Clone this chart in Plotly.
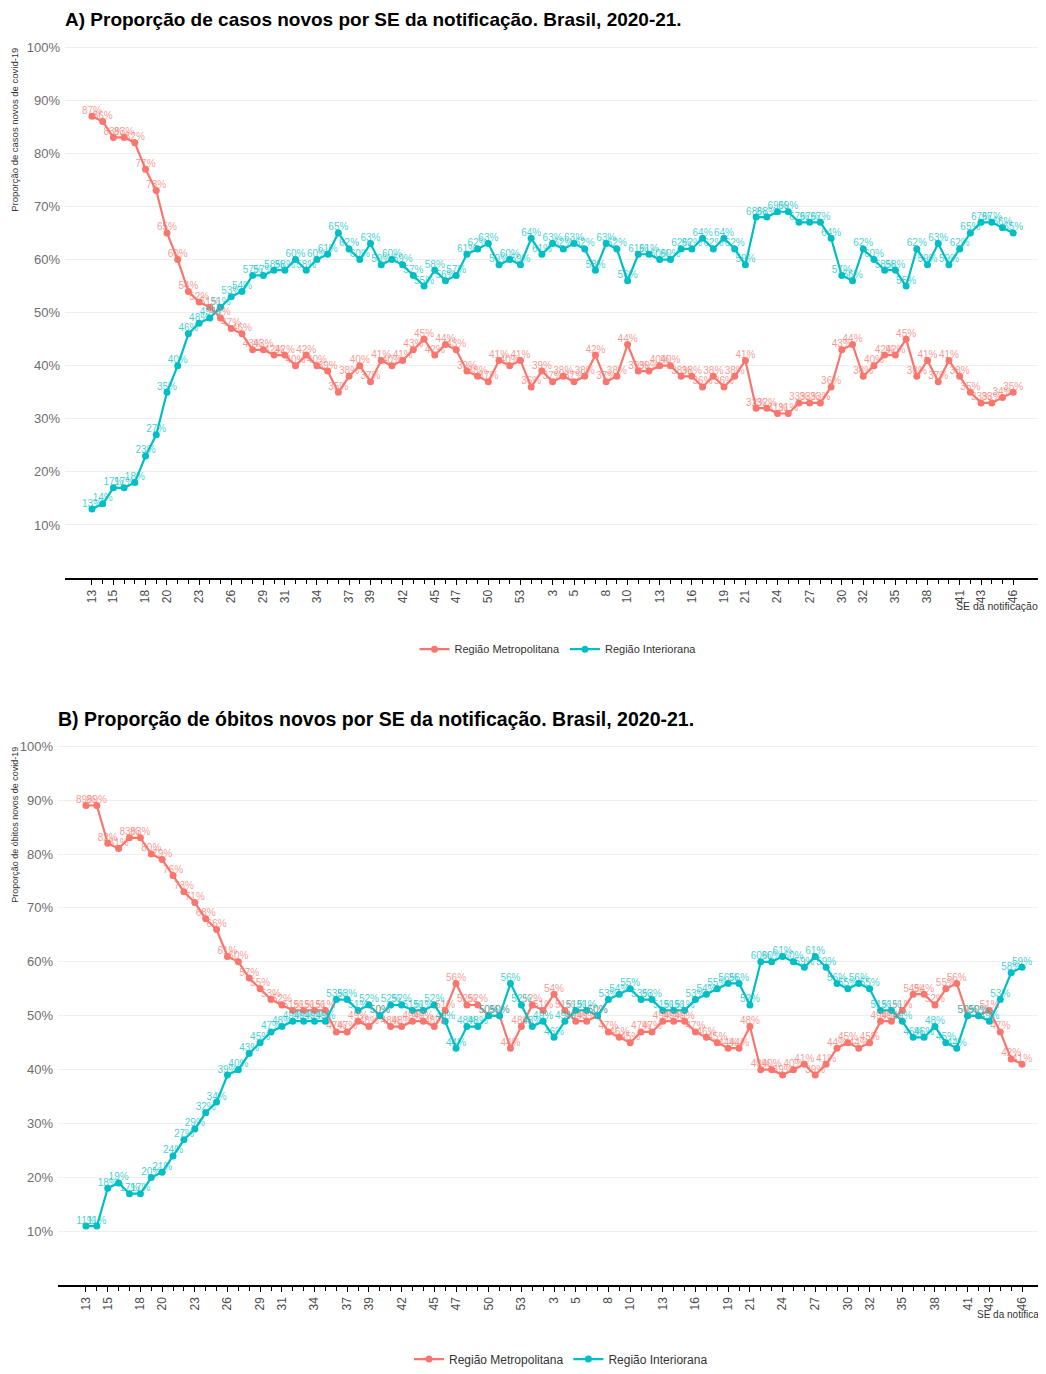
import plotly.graph_objects as go

# %%
# Semanas epidemiológicas (SE) 2020 e 2021
semanas_2020 = [13, 14, 15, 16, 17, 18, 19, 20, 21, 22, 23, 24, 25, 26, 27, 28, 29, 30, 31, 32,
                33, 34, 35, 36, 37, 38, 39, 40, 41, 42, 43, 44, 45, 46, 47, 48, 49, 50, 51, 52, 53]
semanas_2021 = [1, 2, 3, 4, 5, 6, 7, 8, 9, 10, 11, 12, 13, 14, 15, 16, 17, 18, 19, 20, 21, 22, 23,
                24, 25, 26, 27, 28, 29, 30, 31, 32, 33, 34, 35, 36, 37, 38, 39, 40, 41, 42, 43, 44, 45, 46]
semanas = semanas_2020 + semanas_2021

# semanas com rótulo no eixo x
rotulos_2020 = [13, 15, 18, 20, 23, 26, 29, 31, 34, 37, 39, 42, 45, 47, 50, 53]
rotulos_2021 = [3, 5, 8, 10, 13, 16, 19, 21, 24, 27, 30, 32, 35, 38, 41, 43, 46]

# %%
# A) casos novos (%)
casos_metro = [87, 86, 83, 83, 82, 77, 73, 65, 60, 54, 52, 51, 49, 47, 46, 43, 43, 42, 42, 40,
               42, 40, 39, 35, 38, 40, 37, 41, 40, 41, 43, 45, 42, 44, 43, 39, 38, 37, 41, 40, 41,
               36, 39, 37, 38, 37, 38, 42, 37, 38, 44, 39, 39, 40, 40, 38, 38, 36, 38, 36, 38,
               41, 32, 32, 31, 31, 33, 33, 33, 36, 43, 44, 38, 40, 42, 42, 45, 38, 41, 37, 41,
               38, 35, 33, 33, 34, 35]
casos_inter = [13, 14, 17, 17, 18, 23, 27, 35, 40, 46, 48, 49, 51, 53, 54, 57, 57, 58, 58, 60,
               58, 60, 61, 65, 62, 60, 63, 59, 60, 59, 57, 55, 58, 56, 57, 61, 62, 63, 59, 60, 59,
               64, 61, 63, 62, 63, 62, 58, 63, 62, 56, 61, 61, 60, 60, 62, 62, 64, 62, 64, 62,
               59, 68, 68, 69, 69, 67, 67, 67, 64, 57, 56, 62, 60, 58, 58, 55, 62, 59, 63, 59,
               62, 65, 67, 67, 66, 65]

# B) óbitos novos (%)
obitos_metro = [89, 89, 82, 81, 83, 83, 80, 79, 76, 73, 71, 68, 66, 61, 60, 57, 55, 53, 52, 51,
                51, 51, 51, 47, 47, 49, 48, 50, 48, 48, 49, 49, 48, 51, 56, 52, 52, 50, 50, 44, 48,
                52, 51, 54, 51, 49, 49, 50, 47, 46, 45, 47, 47, 49, 49, 49, 47, 46, 45, 44, 44,
                48, 40, 40, 39, 40, 41, 39, 41, 44, 45, 44, 45, 49, 49, 51, 54, 54, 52, 55, 56,
                50, 50, 51, 47, 42, 41]
obitos_inter = [11, 11, 18, 19, 17, 17, 20, 21, 24, 27, 29, 32, 34, 39, 40, 43, 45, 47, 48, 49,
                49, 49, 49, 53, 53, 51, 52, 50, 52, 52, 51, 51, 52, 49, 44, 48, 48, 50, 50, 56, 52,
                48, 49, 46, 49, 51, 51, 50, 53, 54, 55, 53, 53, 51, 51, 51, 53, 54, 55, 56, 56,
                52, 60, 60, 61, 60, 59, 61, 59, 56, 55, 56, 55, 51, 51, 49, 46, 46, 48, 45, 44,
                50, 50, 49, 53, 58, 59]

# %%
# a página tem margem de 8px no body, então o gráfico é deslocado
OFF = 8
W, H = 1038, 1366
FONT = "Liberation Sans, Arial, sans-serif"
VERMELHO = "#F8766D"
AZUL = "#00BFC4"

idx = list(range(len(semanas)))
tickvals = [semanas_2020.index(s) for s in rotulos_2020] + \
           [len(semanas_2020) + semanas_2021.index(s) for s in rotulos_2021]
ticktext = [str(s) for s in rotulos_2020 + rotulos_2021]


def px(x):
    return (x - OFF) / W


def py(y):
    return 1 - (y - OFF) / H


fig = go.Figure()

paineis = [
    ("x", "y", "legend", casos_metro, casos_inter),
    ("x2", "y2", "legend2", obitos_metro, obitos_inter),
]
for xa, ya, leg, metro, inter in paineis:
    for nome, vals, cor in [("Região Metropolitana", metro, VERMELHO),
                            ("Região Interiorana", inter, AZUL)]:
        fig.add_trace(go.Scatter(
            x=idx, y=vals, mode="lines+markers", name=nome,
            line=dict(color=cor, width=2.2), marker=dict(color=cor, size=7),
            xaxis=xa, yaxis=ya, legend=leg))
for xa, ya, leg, metro, inter in paineis:
    for vals, cor in [(metro, "rgba(248,118,109,0.75)"), (inter, "rgba(0,191,196,0.75)")]:
        fig.add_trace(go.Scatter(
            x=idx, y=vals, mode="text", text=[f"{v}%" for v in vals],
            textposition="top center", textfont=dict(color=cor, size=10, family=FONT),
            showlegend=False, hoverinfo="skip", xaxis=xa, yaxis=ya))

eixo_x = dict(
    tickmode="array", tickvals=tickvals, ticktext=ticktext, tickangle=-90,
    ticks="outside", ticklen=5, tickcolor="black", tickwidth=1,
    minor=dict(tickvals=idx, ticks="outside", ticklen=4, tickcolor="black", tickwidth=1),
    tickfont=dict(size=12, color="#4d4d4d", family=FONT),
    showline=True, linecolor="black", linewidth=2, showgrid=False, zeroline=False,
)
eixo_y = dict(
    tickmode="array", tickvals=[10, 20, 30, 40, 50, 60, 70, 80, 90, 100],
    ticktext=[f"{v}%" for v in [10, 20, 30, 40, 50, 60, 70, 80, 90, 100]],
    tickfont=dict(size=13, color="#6e6e6e", family=FONT),
    showgrid=True, gridcolor="#efefef", gridwidth=1, zeroline=False, showline=False,
    ticks="", ticklabelstandoff=4,
)

fig.update_layout(
    width=W, height=H, margin=dict(l=0, r=0, t=0, b=0),
    paper_bgcolor="white", plot_bgcolor="white",
    font=dict(family=FONT),
    xaxis=dict(eixo_x, domain=[px(65), px(1040)], range=[-2.52, 88.5], anchor="y"),
    yaxis=dict(eixo_y, domain=[py(578.6), py(40)], range=[0, 101], anchor="x"),
    xaxis2=dict(eixo_x, domain=[px(58), 1.0], range=[-2.57, 88.2], anchor="y2"),
    yaxis2=dict(eixo_y, domain=[py(1289), py(742)], range=[0, 101], anchor="x2"),
    legend=dict(orientation="h", x=px(558), xanchor="center", y=py(650), yanchor="middle",
                font=dict(size=11, color="#333333", family=FONT), itemwidth=30),
    legend2=dict(orientation="h", x=px(561), xanchor="center", y=py(1363), yanchor="middle",
                 font=dict(size=12, color="#333333", family=FONT), itemwidth=30),
    showlegend=True,
)

anotacoes = [
    dict(text="<b>A) Proporção de casos novos por SE da notificação. Brasil, 2020-21.</b>",
         x=px(63), y=py(18), xanchor="left", yanchor="middle", font=dict(size=19, color="black")),
    dict(text="<b>B) Proporção de óbitos novos por SE da notificação. Brasil, 2020-21.</b>",
         x=px(56), y=py(720), xanchor="left", yanchor="middle", font=dict(size=19.5, color="black")),
    dict(text="Proporção de casos novos de covid-19", textangle=-90,
         x=px(15), y=py(44), xanchor="center", yanchor="top", font=dict(size=9.5, color="#333333")),
    dict(text="Proporção de óbitos novos de covid-19", textangle=-90,
         x=0, y=py(746), xanchor="left", yanchor="top", font=dict(size=9, color="#333333")),
    dict(text="SE da notificação", x=px(1040), y=py(607), xanchor="right", yanchor="middle",
         font=dict(size=10.5, color="#333333")),
    dict(text="SE da notificação", x=px(975), y=py(1318), xanchor="left", yanchor="middle",
         font=dict(size=10, color="#333333")),
]
for a in anotacoes:
    a.update(xref="paper", yref="paper", showarrow=False)
    a["font"]["family"] = FONT
fig.update_layout(annotations=anotacoes)

fig.write_html("out.html")
